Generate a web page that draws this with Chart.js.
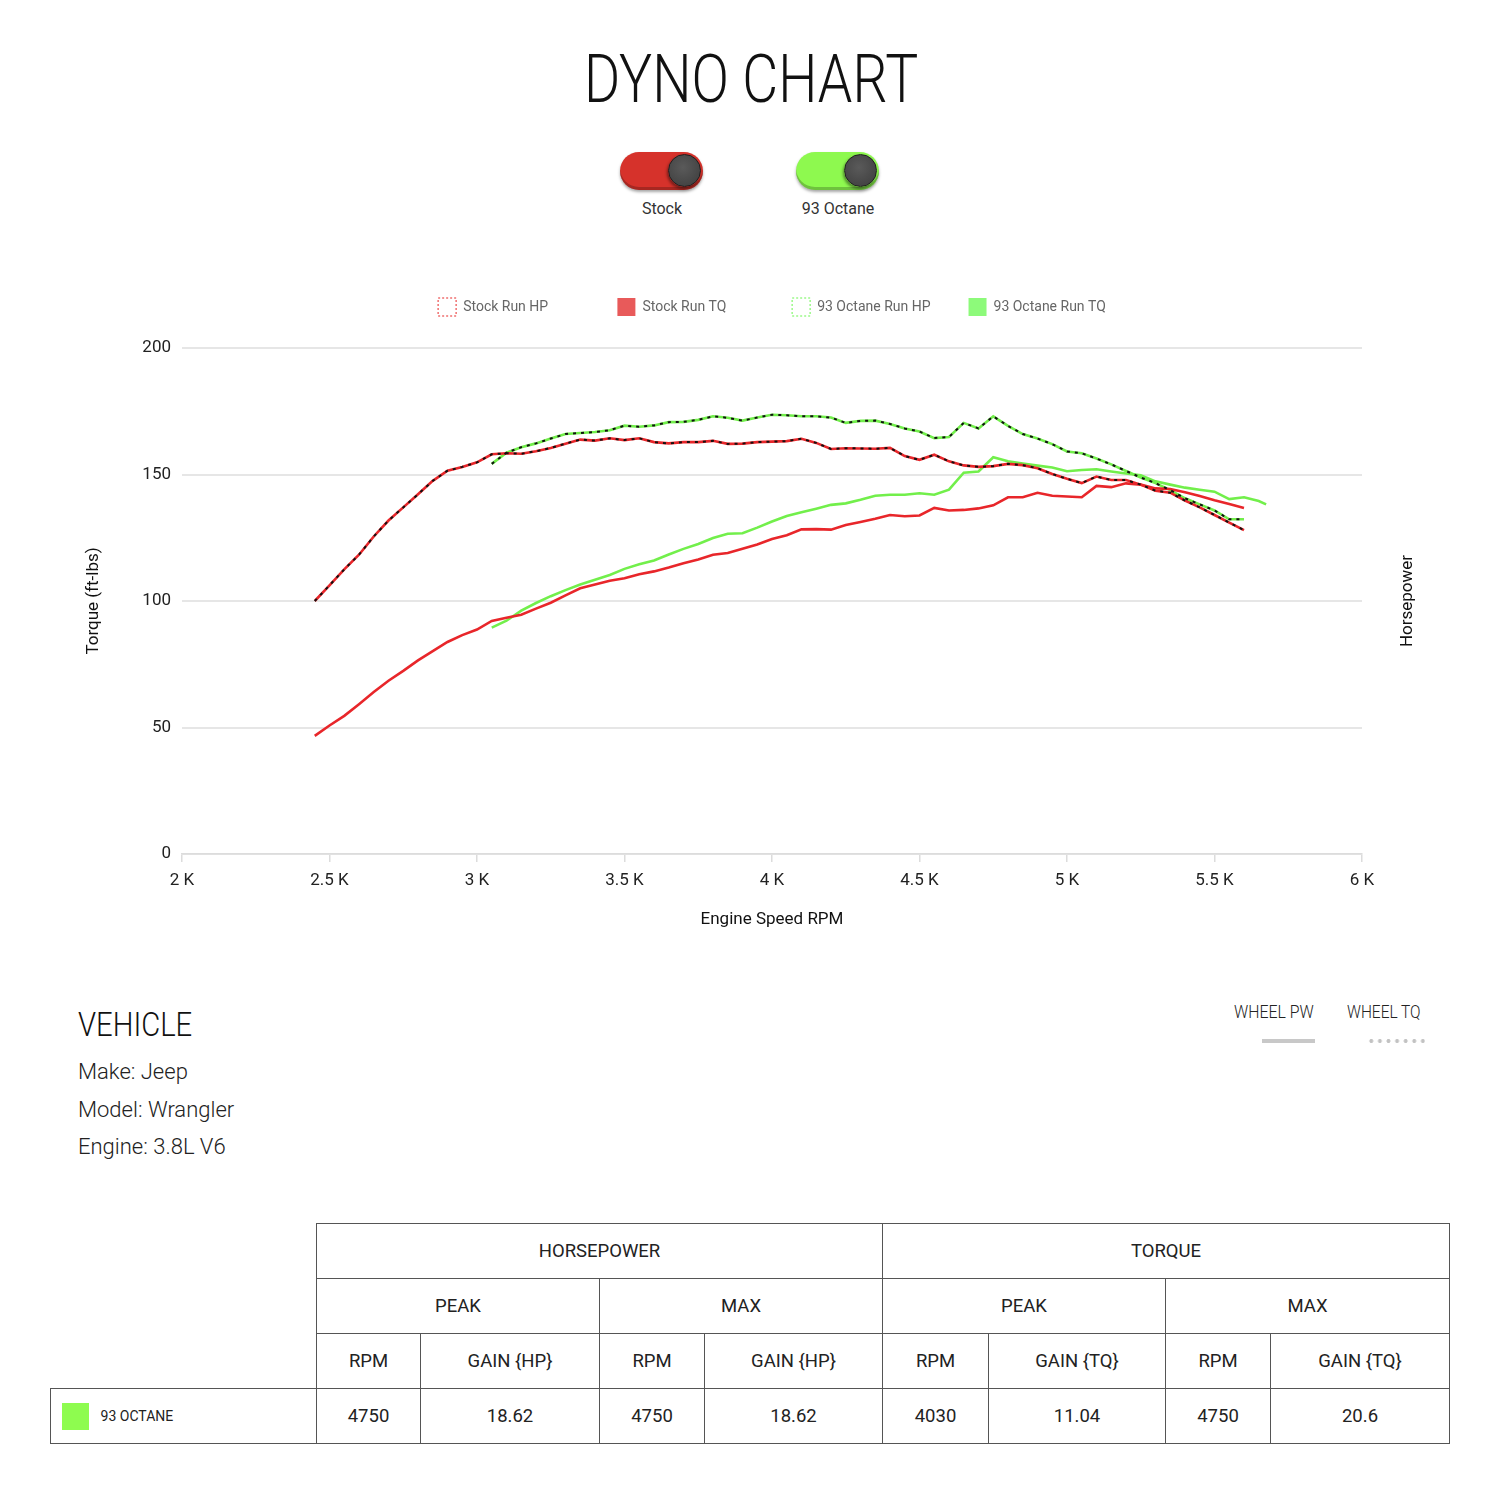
<!DOCTYPE html>
<html>
<head>
<meta charset="utf-8">
<script src="https://cdn.jsdelivr.net/npm/chart.js@4"></script>
<style>
  body { margin: 0; background: #fff; font-family: Roboto, sans-serif; color: #222; }
  #page { position: relative; width: 1500px; height: 1500px; overflow: hidden; }
  .abs { position: absolute; white-space: nowrap; }
  .cond { font-weight: 300; line-height: 1; transform-origin: left top; }
  #title { left: 584px; top: 46px; font-size: 67px; color: #111; transform: scaleX(0.825); }
  .toggle { position: absolute; top: 152px; width: 83px; height: 38px; border-radius: 19px;
    box-shadow: inset 0 -3px 0 rgba(0,0,0,0.22), 0 2px 3px rgba(0,0,0,0.35); }
  .knob { position: absolute; right: 2px; top: 2px; width: 31px; height: 31px; border-radius: 50%;
    background: radial-gradient(circle at 45% 40%, #5a5a5a, #3c3c3c); border: 1.5px solid #1e1e1e;
    box-shadow: -1px 2px 3px rgba(0,0,0,0.45); }
  .tlabel { position: absolute; top: 201px; width: 160px; text-align: center; font-size: 16px; line-height: 1; color: #333; }
  #chartBox { position: absolute; left: 0; top: 233px; }
  .veh { left: 78px; font-size: 22px; font-weight: 300; line-height: 1; color: #222; }
  table { position: absolute; left: 50px; top: 1223px; border-collapse: collapse; table-layout: fixed; }
  td { border: 1.5px solid #555; height: 54px; text-align: center; font-size: 18.5px; color: #222; padding: 0; }
  td.blank { border: none; }
</style>
</head>
<body>
<div id="page">
  <div id="title" class="abs cond">DYNO CHART</div>

  <div class="toggle" style="left:620px;background:#d6322b;"><div class="knob"></div></div>
  <div class="tlabel" style="left:582px;">Stock</div>
  <div class="toggle" style="left:796px;background:#8ef94f;"><div class="knob"></div></div>
  <div class="tlabel" style="left:758px;">93 Octane</div>

  <div id="chartBox"><canvas id="myChart" width="1500" height="701"></canvas></div>

  <div class="abs cond" style="left:78px;top:1007px;font-size:34px;color:#111;transform:scaleX(0.86);">VEHICLE</div>
  <div class="abs veh" style="top:1061px;">Make: Jeep</div>
  <div class="abs veh" style="top:1099px;">Model: Wrangler</div>
  <div class="abs veh" style="top:1136px;">Engine: 3.8L V6</div>

  <div class="abs cond" style="left:1234px;top:1003px;font-size:18px;color:#222;transform:scaleX(0.88);">WHEEL PW</div>
  <div class="abs" style="left:1262px;top:1039px;width:53px;height:4px;background:#c8c8c8;"></div>
  <div class="abs cond" style="left:1347px;top:1003px;font-size:18px;color:#222;transform:scaleX(0.86);">WHEEL TQ</div>
  <div class="abs" style="left:1367px;top:1039px;width:58px;height:4px;background:radial-gradient(circle, #c2c2c2 1.7px, rgba(255,255,255,0) 2.2px) repeat-x;background-size:8.6px 4px;"></div>

  <table>
    <colgroup>
      <col style="width:266px"><col style="width:104px"><col style="width:179px"><col style="width:105px">
      <col style="width:178px"><col style="width:106px"><col style="width:177px"><col style="width:105px"><col style="width:179px">
    </colgroup>
    <tr><td class="blank" rowspan="3"></td><td colspan="4">HORSEPOWER</td><td colspan="4">TORQUE</td></tr>
    <tr><td colspan="2">PEAK</td><td colspan="2">MAX</td><td colspan="2">PEAK</td><td colspan="2">MAX</td></tr>
    <tr><td>RPM</td><td>GAIN {HP}</td><td>RPM</td><td>GAIN {HP}</td><td>RPM</td><td>GAIN {TQ}</td><td>RPM</td><td>GAIN {TQ}</td></tr>
    <tr>
      <td style="text-align:left;">
        <span style="display:inline-block;width:27px;height:27px;background:#8efc4f;margin-left:11px;vertical-align:middle;"></span>
        <span style="font-size:14px;margin-left:7px;vertical-align:middle;">93 OCTANE</span>
      </td>
      <td>4750</td><td>18.62</td><td>4750</td><td>18.62</td><td>4030</td><td>11.04</td><td>4750</td><td>20.6</td>
    </tr>
  </table>
</div>

<script>
  // engine speed samples, rpm
  const stockRpm = [2450, 2500, 2550, 2600, 2650, 2700, 2750, 2800, 2850, 2900, 2950, 3000, 3050, 3100, 3150, 3200,
    3250, 3300, 3350, 3400, 3450, 3500, 3550, 3600, 3650, 3700, 3750, 3800, 3850, 3900, 3950, 4000,
    4050, 4100, 4150, 4200, 4250, 4300, 4350, 4400, 4450, 4500, 4550, 4600, 4650, 4700, 4750, 4800,
    4850, 4900, 4950, 5000, 5050, 5100, 5150, 5200, 5250, 5300, 5350, 5400, 5450, 5500, 5550, 5600]

  const stockTq = [100, 106.2, 112.5, 118.3, 125.5, 131.8, 137, 142.2, 147.5, 151.5, 153, 154.8, 158, 158.4, 158.2, 159.2,
    160.5, 162.2, 163.8, 163.4, 164.3, 163.6, 164.3, 162.8, 162.3, 162.8, 162.8, 163.3, 162.1, 162.2, 162.8, 163,
    163.2, 164.1, 162.5, 160.1, 160.4, 160.3, 160.2, 160.5, 157.3, 155.8, 157.8, 155.2, 153.6, 153, 153.3, 154.2,
    153.7, 152.5, 150.2, 148.3, 146.6, 149.2, 147.8, 147.8, 146, 143.6, 142.8, 139.7, 137, 134, 131, 128]

  const stockHp = [46.7, 50.8, 54.6, 59.2, 64, 68.5, 72.4, 76.5, 80.2, 83.8, 86.5, 88.7, 92.1, 93.4, 94.6, 97,
    99.3, 102.2, 105, 106.5, 108, 109, 110.6, 111.7, 113.2, 114.9, 116.4, 118.3, 119, 120.7, 122.3, 124.5,
    126, 128.3, 128.4, 128.2, 130, 131.2, 132.5, 134, 133.5, 133.8, 136.8, 135.8, 136, 136.6, 137.8, 141,
    141, 142.8, 141.6, 141.3, 141, 145.5, 145, 146.5, 146, 144.5, 144.3, 143, 141.5, 139.8, 138.3, 136.8]

  const octaneTqRpm = [3050, 3100, 3150, 3200, 3250, 3300, 3350, 3400, 3450, 3500, 3550, 3600, 3650, 3700, 3750, 3800,
    3850, 3900, 3950, 4000, 4050, 4100, 4150, 4200, 4250, 4300, 4350, 4400, 4450, 4500, 4550, 4600,
    4650, 4700, 4750, 4800, 4850, 4900, 4950, 5000, 5050, 5100, 5150, 5200, 5250, 5300, 5350, 5400,
    5450, 5500, 5550, 5600]

  const octaneTq = [154.2, 158.6, 160.8, 162.3, 164.2, 166, 166.4, 166.8, 167.5, 169.3, 168.9, 169.4, 170.7, 170.8, 171.6, 173,
    172.4, 171.3, 172.5, 173.6, 173.4, 173, 173, 172.5, 170.4, 171.2, 171.3, 170, 168.2, 167, 164.4, 164.8,
    170.4, 168.2, 173, 169.2, 166, 164.2, 162, 159.1, 158.4, 156.3, 154, 151.4, 148.8, 146.6, 143.8, 140.6,
    138.2, 135.8, 132.3, 132.3]

  const octaneHpRpm = [3050, 3100, 3150, 3200, 3250, 3300, 3350, 3400, 3450, 3500, 3550, 3600, 3650, 3700, 3750, 3800,
    3850, 3900, 3950, 4000, 4050, 4100, 4150, 4200, 4250, 4300, 4350, 4400, 4450, 4500, 4550, 4600,
    4650, 4700, 4750, 4800, 4850, 4900, 4950, 5000, 5050, 5100, 5150, 5200, 5250, 5300, 5350, 5400,
    5450, 5500, 5550, 5600, 5650, 5675]

  const octaneHp = [89.5, 92.2, 96.2, 99.2, 101.9, 104.3, 106.5, 108.4, 110.3, 112.7, 114.5, 116, 118.4, 120.6, 122.5, 124.9,
    126.6, 126.8, 129, 131.4, 133.6, 135.1, 136.5, 138, 138.6, 140, 141.6, 142, 142, 142.6, 142, 144,
    150.7, 151.2, 156.8, 155.2, 154.3, 153.5, 152.8, 151.3, 151.8, 152.1, 151.2, 150.4, 149.7, 147.3, 146, 144.8,
    144, 143.2, 140.3, 141, 139.5, 138.2]

  const yTicks = [0, 50, 100, 150, 200]

  const stockColor = '#e8262a'
  const octaneColor = '#72ef4b'

  function pts(xs, ys) {
    return xs.map((x, i) => ({ x: x, y: ys[i] }))
  }

  function line(label, xs, ys, color, extra) {
    return Object.assign({
      label: label,
      data: pts(xs, ys),
      borderColor: color,
      borderWidth: 2.6,
      pointRadius: 0,
      tension: 0,
      fill: false,
      order: 1
    }, extra || {})
  }

  // black dashes on top of the torque traces
  const dashes = { borderWidth: 2, borderDash: [3, 5], order: 0 }

  const legendMargin = {
    id: 'legendMargin',
    beforeInit(chart) {
      const fit = chart.legend.fit
      chart.legend.fit = function () {
        fit.bind(chart.legend)()
        this.height += 22
      }
    }
  }

  const rightTitle = {
    id: 'rightTitle',
    afterDraw(chart) {
      const a = chart.chartArea
      const ctx = chart.ctx
      ctx.save()
      ctx.translate(1408, (a.top + a.bottom) / 2)
      ctx.rotate(-Math.PI / 2)
      ctx.font = '17px Roboto'
      ctx.fillStyle = '#111'
      ctx.textAlign = 'center'
      ctx.textBaseline = 'middle'
      ctx.fillText('Horsepower', 0, 0)
      ctx.restore()
    }
  }

  const ctx = document.getElementById('myChart').getContext('2d')
  const chart = new Chart(ctx, {
    type: 'line',
    data: {
      datasets: [
        line('Stock Run TQ', stockRpm, stockTq, '#111', dashes),
        line('93 Octane Run TQ', octaneTqRpm, octaneTq, '#111', dashes),
        line('Stock Run HP', stockRpm, stockHp, stockColor),
        line('Stock Run TQ', stockRpm, stockTq, stockColor),
        line('93 Octane Run HP', octaneHpRpm, octaneHp, octaneColor),
        line('93 Octane Run TQ', octaneTqRpm, octaneTq, octaneColor)
      ]
    },
    options: {
      responsive: false,
      animation: false,
      layout: { padding: { left: 80, right: 80, top: 27, bottom: 0 } },
      plugins: {
        tooltip: { enabled: false },
        legend: {
          position: 'top',
          fullSize: false,
          labels: {
            boxWidth: 18,
            boxHeight: 18,
            padding: 38,
            color: '#666',
            font: { family: 'Roboto', size: 14 },
            // trailing spaces keep the item spacing of the original legend
            generateLabels: () => [
              { text: 'Stock Run HP         ', fillStyle: 'rgba(0,0,0,0)', strokeStyle: '#f07070', lineWidth: 1.5, lineDash: [2, 2], fontColor: '#666' },
              { text: 'Stock Run TQ        ', fillStyle: '#e85a5a', strokeStyle: '#e85a5a', lineWidth: 0, fontColor: '#666' },
              { text: '93 Octane Run HP', fillStyle: 'rgba(0,0,0,0)', strokeStyle: '#9cf98a', lineWidth: 1.5, lineDash: [2, 2], fontColor: '#666' },
              { text: '93 Octane Run TQ', fillStyle: '#8dfa7a', strokeStyle: '#8dfa7a', lineWidth: 0, fontColor: '#666' }
            ]
          }
        }
      },
      scales: {
        x: {
          type: 'linear',
          min: 2000,
          max: 6000,
          afterFit: s => { s.height = 80 },
          ticks: {
            stepSize: 500,
            padding: 9,
            color: '#222',
            font: { family: 'Roboto', size: 17 },
            callback: v => (v / 1000) + ' K'
          },
          grid: { drawOnChartArea: false, drawTicks: true, tickLength: 8, color: '#dcdcdc', lineWidth: 1.5 },
          border: { display: true, color: '#dcdcdc', width: 1.5 },
          title: { display: true, text: 'Engine Speed RPM', color: '#111', font: { family: 'Roboto', size: 17 } }
        },
        y: {
          position: 'left',
          min: yTicks[0],
          max: yTicks[yTicks.length - 1],
          afterFit: s => { s.width = 102 },
          afterBuildTicks: s => { s.ticks = yTicks.map(v => ({ value: v })) },
          ticks: { padding: 11, color: '#222', font: { family: 'Roboto', size: 17 } },
          grid: { color: '#e6e6e6', lineWidth: 2, drawTicks: false },
          border: { display: false },
          title: { display: true, text: 'Torque (ft-lbs)', color: '#111', font: { family: 'Roboto', size: 17 } }
        },
        y1: {
          position: 'right',
          min: yTicks[0],
          max: yTicks[yTicks.length - 1],
          afterFit: s => { s.width = 58 },
          ticks: { display: false },
          grid: { display: false },
          border: { display: false }
        }
      }
    },
    plugins: [legendMargin, rightTitle]
  })
</script>
</body>
</html>
